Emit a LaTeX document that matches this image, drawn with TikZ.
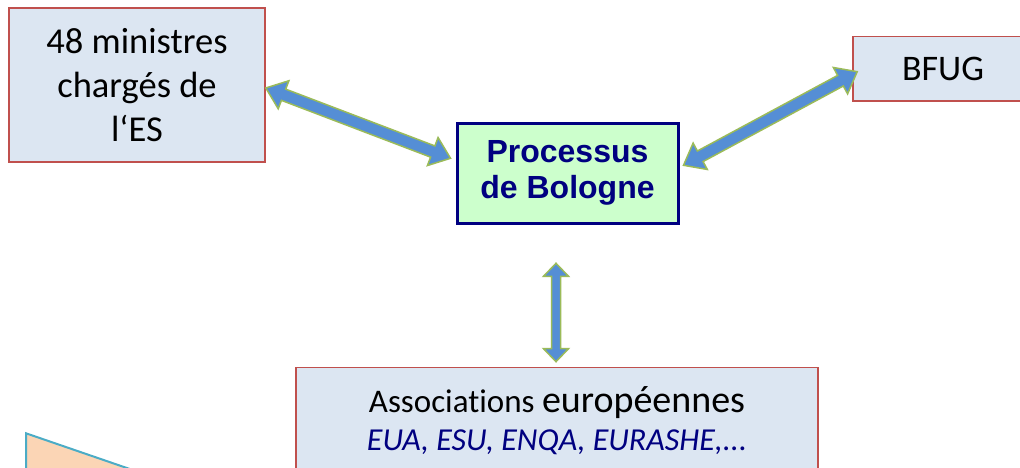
\documentclass[tikz,border=0pt]{standalone}
\usepackage{fontspec}
\setmainfont{Carlito}[Ligatures=NoCommon]
\newfontfamily\arialfont{Liberation Sans}
\usetikzlibrary{calc}
\definecolor{boxfill}{HTML}{DCE6F2}
\definecolor{boxred}{HTML}{C0504D}
\definecolor{procfill}{HTML}{CCFFCC}
\definecolor{navytext}{HTML}{000080}
\definecolor{arrfill}{HTML}{558ED5}
\definecolor{arrline}{HTML}{9BBB59}
\definecolor{trifill}{HTML}{FBD5B5}
\definecolor{triline}{HTML}{4BACC6}
\newcommand\dblblock[5]{%
  \coordinate (ba-m) at ($(#1)!#5!(#2)$);
  \coordinate (ba-n) at ($(#2)!#5!(#1)$);
  \draw[blockarrow] (#1) -- ($(ba-m)!#4!90:(#2)$) -- ($(ba-m)!#3!90:(#2)$)
    -- ($(ba-n)!#3!-90:(#1)$) -- ($(ba-n)!#4!-90:(#1)$) -- (#2)
    -- ($(ba-n)!#4!90:(#1)$) -- ($(ba-n)!#3!90:(#1)$)
    -- ($(ba-m)!#3!-90:(#2)$) -- ($(ba-m)!#4!-90:(#2)$) -- cycle;
}
\tikzset{
  bluebox/.style={draw=boxred, fill=boxfill, line width=1.6bp, rectangle, inner sep=0pt, align=center},
  procbox/.style={draw=navytext, fill=procfill, line width=3bp, rectangle, inner sep=0pt, align=center,
    text=navytext, font=\arialfont\bfseries\fontsize{32bp}{36bp}\selectfont},
  blockarrow/.style={fill=arrfill, draw=arrline, line width=1.5bp, line join=miter},
  tri/.style={fill=trifill, draw=triline, line width=2bp}
}
\begin{document}
\begin{tikzpicture}[x=1bp,y=1bp]
\useasboundingbox (0,0) rectangle (1020,468);
\clip (0,0) rectangle (1020,468);
% triangle at bottom left
\draw[tri] (26,34.7) -- (199.5,-25) -- (26,-25) -- cycle;
% boxes
\node[bluebox, minimum width=256bp, minimum height=154bp,
  font=\fontsize{36.5bp}{43.7bp}\selectfont] (min) at (137,383)
  {48 ministres\\chargés de\\l‘ES};
\node[bluebox, minimum width=180bp, minimum height=64.5bp,
  font=\fontsize{36bp}{43bp}\selectfont] (bfug) at (943,399.3) {BFUG};
\node[procbox, minimum width=221bp, minimum height=100bp] (proc) at (567.5,294.7)
  {Processus\\de Bologne};
\node[bluebox, anchor=north] (assoc) at (557,101.3)
  {\parbox[c][140bp][t]{522bp}{\centering\fontsize{36bp}{38.5bp}\selectfont
   \rule{0pt}{45bp}{\fontsize{33bp}{38.5bp}\selectfont Associations }{\fontsize{38bp}{38.5bp}\selectfont européennes}\\
   {\color{navytext}\itshape\fontsize{32bp}{38.5bp}\selectfont EUA, ESU, ENQA, EURASHE,...}}};
% arrow end points
\coordinate (a1s) at ([yshift=-3bp]min.east);
\coordinate (a1e) at ([xshift=-5bp,yshift=15bp]proc.west);
\coordinate (a2s) at ([xshift=4bp,yshift=8bp]proc.east);
\coordinate (a2e) at ([xshift=5bp,yshift=-3bp]bfug.west);
\coordinate (a3s) at ([xshift=-1bp,yshift=5bp]assoc.north);
\coordinate (a3e) at ([xshift=-1bp,yshift=103.4bp]assoc.north);
\dblblock{a1s}{a1e}{6bp}{15bp}{19bp}
\dblblock{a2s}{a2e}{6bp}{15bp}{19bp}
\dblblock{a3s}{a3e}{4.5bp}{12.5bp}{13bp}
\end{tikzpicture}
\end{document}
